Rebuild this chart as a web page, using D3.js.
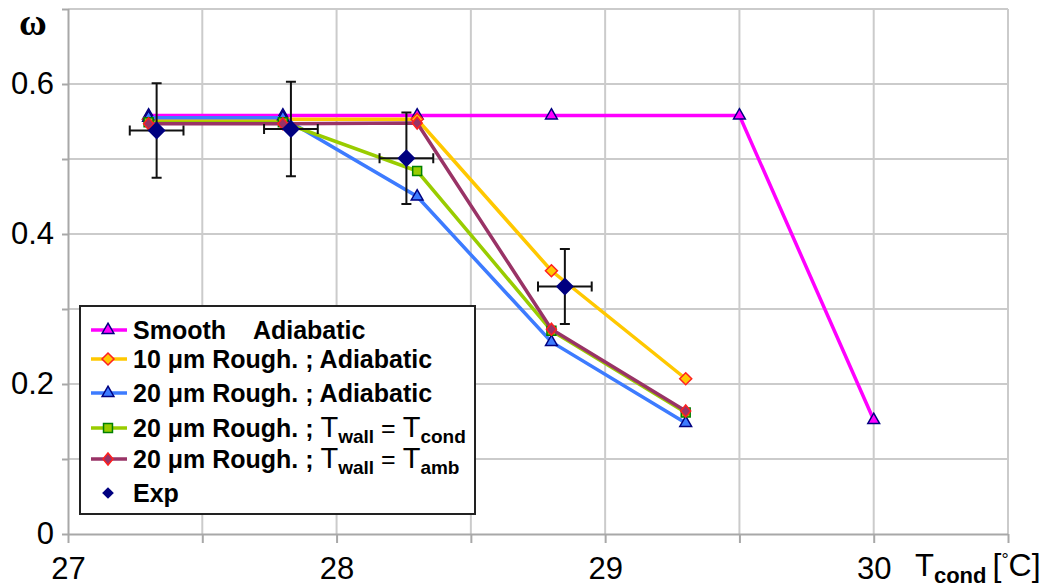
<!DOCTYPE html>
<html>
<head>
<meta charset="utf-8">
<script src="https://cdn.jsdelivr.net/npm/d3@7"></script>
<style>
  body { margin: 0; background: #fff; }
  svg { display: block; font-family: "Liberation Sans", Arial, sans-serif; }
</style>
</head>
<body>
<svg id="chart"></svg>
<script>
const width = 1059;
const height = 587;

// data
const simX = [27.3, 27.8, 28.3, 28.8, 29.3];
const smoothX = [27.3, 27.8, 28.3, 28.8, 29.5, 30.0];
const smoothAdiabatic = [0.558, 0.558, 0.558, 0.558, 0.558, 0.152];
const rough10Adiabatic = [0.553, 0.553, 0.553, 0.351, 0.207];
const rough20Adiabatic = [0.555, 0.555, 0.450, 0.256, 0.148];
const rough20Cond = [0.549, 0.549, 0.484, 0.271, 0.162];
const rough20Amb = [0.547, 0.547, 0.548, 0.273, 0.164];
const expX = [27.33, 27.83, 28.26, 28.85];
const expY = [0.538, 0.540, 0.501, 0.330];
const expXErr = [0.1, 0.1, 0.1, 0.1];
const expYErr = [0.063, 0.063, 0.061, 0.05];

const xTicks = [27, 27.5, 28, 28.5, 29, 29.5, 30, 30.5];
const xLabels = [27, 28, 29, 30];
const yTicks = [0, 0.1, 0.2, 0.3, 0.4, 0.5, 0.6, 0.7];
const yLabels = [0, 0.2, 0.4, 0.6];

const series = [
    { name: [["Smooth    Adiabatic"]], xs: smoothX, ys: smoothAdiabatic,
      color: "#ff00ff", marker: "triangle", fill: "#ff00ff", stroke: "#000080" },
    { name: [["10 μm Rough. ; Adiabatic"]], xs: simX, ys: rough10Adiabatic,
      color: "#ffc800", marker: "diamond", fill: "#ffc800", stroke: "#ff2020" },
    { name: [["20 μm Rough. ; Adiabatic"]], xs: simX, ys: rough20Adiabatic,
      color: "#3d7bff", marker: "triangle", fill: "#3d7bff", stroke: "#000080" },
    { name: [["20 μm Rough. ; "], ["T", "big"], ["wall", "sub"], [" = ", "eq"], ["T", "big"], ["cond", "sub"]],
      xs: simX, ys: rough20Cond,
      color: "#99cc00", marker: "square", fill: "#99cc00", stroke: "#008000" },
    { name: [["20 μm Rough. ; "], ["T", "big"], ["wall", "sub"], [" = ", "eq"], ["T", "big"], ["amb", "sub"]],
      xs: simX, ys: rough20Amb,
      color: "#993366", marker: "small", fill: "#993366", stroke: "#ff2020" }
];

const svg = d3.select("#chart")
    .attr("width", width)
    .attr("height", height);

const x = d3.scaleLinear().domain([27, 30.5]).range([68, 1008]);
const y = d3.scaleLinear().domain([0, 0.7]).range([534, 9]);

// grid
const grid = svg.append("g");
grid.selectAll(".vg")
    .data(xTicks.slice(1))
    .enter()
    .append("line")
    .attr("x1", d => x(d)).attr("x2", d => x(d))
    .attr("y1", y(0)).attr("y2", y(0.7))
    .attr("stroke", "#cbcbcb").attr("stroke-width", 2);
grid.selectAll(".hg")
    .data(yTicks.slice(1))
    .enter()
    .append("line")
    .attr("x1", x(27)).attr("x2", x(30.5))
    .attr("y1", d => y(d)).attr("y2", d => y(d))
    .attr("stroke", "#cbcbcb").attr("stroke-width", 2);

// axes
const xAxis = d3.axisBottom(x)
    .tickValues(xTicks)
    .tickSize(9)
    .tickPadding(14)
    .tickFormat(d => xLabels.includes(d) ? d : "");
const yAxis = d3.axisLeft(y)
    .tickValues(yTicks)
    .tickSize(6)
    .tickPadding(8)
    .tickFormat(d => yLabels.includes(d) ? (d === 0 ? "0" : d3.format(".1f")(d)) : "");

const gx = svg.append("g")
    .attr("transform", `translate(0, ${y(0)})`)
    .call(xAxis);
const gy = svg.append("g")
    .attr("transform", `translate(${x(27)}, 0)`)
    .call(yAxis);

[gx, gy].forEach(g => {
    g.select(".domain").attr("stroke", "#a8a8a8").attr("stroke-width", 2);
    g.selectAll(".tick line").attr("stroke", "#a8a8a8").attr("stroke-width", 2);
    g.selectAll(".tick text")
        .attr("fill", "#000")
        .style("font-size", "31px")
        .style("font-family", "'Liberation Sans', Arial, sans-serif");
});
gx.select(".domain").attr("d", `M${x(27)},0.5H${x(30.5)}`);
gy.select(".domain").attr("d", `M0.5,${y(0)}V${y(0.7)}`);
gy.selectAll(".tick text").attr("x", -14);

// axis titles
svg.append("text")
    .attr("x", 33).attr("y", 35)
    .attr("text-anchor", "middle")
    .style("font-family", "'Liberation Serif', 'Times New Roman', serif")
    .style("font-weight", "bold")
    .style("font-size", "38px")
    .text("ω");

const xt = svg.append("text")
    .attr("x", 915).attr("y", 576)
    .style("font-size", "31px");
xt.append("tspan").text("T");
xt.append("tspan").attr("dy", 7).style("font-size", "22px").style("font-weight", "bold").text("cond");
xt.append("tspan").attr("dy", -7).attr("dx", 6).style("font-size", "32px").text("[");
xt.append("tspan").attr("dy", -10).style("font-size", "18px").text("°");
xt.append("tspan").attr("dy", 10).style("font-size", "32px").text("C]");

// markers
function markerPath(kind) {
    if (kind === "triangle") return d3.symbol(d3.symbolTriangle, 60)();
    if (kind === "square") return d3.symbol(d3.symbolSquare, 80)();
    if (kind === "diamond") return "M0,-6L6,0L0,6L-6,0Z";
    if (kind === "small") return "M0,-6L5,0L0,6L-5,0Z";
    if (kind === "exp") return "M0,-9L9,0L0,9L-9,0Z";
    return "";
}

const line = d3.line().x(d => x(d[0])).y(d => y(d[1]));

const plot = svg.append("g");
series.forEach(s => {
    const pts = s.xs.map((v, i) => [v, s.ys[i]]);
    plot.append("path")
        .datum(pts)
        .attr("d", line)
        .attr("fill", "none")
        .attr("stroke", s.color)
        .attr("stroke-width", 3.5);
    plot.selectAll(null)
        .data(pts)
        .enter()
        .append("path")
        .attr("transform", d => `translate(${x(d[0])}, ${y(d[1])})`)
        .attr("d", markerPath(s.marker))
        .attr("fill", s.fill)
        .attr("stroke", s.stroke)
        .attr("stroke-width", 1.5);
});

// experiment with error bars
const exp = expX.map((v, i) => ({ x: v, y: expY[i], ex: expXErr[i], ey: expYErr[i] }));
const eb = svg.append("g").attr("stroke", "#111").attr("stroke-width", 2);
exp.forEach(d => {
    const cx = x(d.x), cy = y(d.y);
    const x0 = x(d.x - d.ex), x1 = x(d.x + d.ex);
    const y0 = y(d.y - d.ey), y1 = y(d.y + d.ey);
    eb.append("path").attr("fill", "none")
        .attr("d", `M${cx},${y0}V${y1}M${cx - 5},${y0}H${cx + 5}M${cx - 5},${y1}H${cx + 5}` +
                   `M${x0},${cy}H${x1}M${x0},${cy - 5}V${cy + 5}M${x1},${cy - 5}V${cy + 5}`);
});
svg.append("g").selectAll("path")
    .data(exp)
    .enter()
    .append("path")
    .attr("transform", d => `translate(${x(d.x)}, ${y(d.y)})`)
    .attr("d", markerPath("exp"))
    .attr("fill", "#000080");

// legend
const legend = svg.append("g");
legend.append("rect")
    .attr("x", 80).attr("y", 306)
    .attr("width", 395).attr("height", 208)
    .attr("fill", "#fff")
    .attr("stroke", "#222")
    .attr("stroke-width", 2);

const rowY = [330, 359, 393, 428, 459, 493];
const entries = series.concat([{ name: [["Exp"]], marker: "exp", fill: "#000080", stroke: "none" }]);
entries.forEach((s, i) => {
    const ry = rowY[i];
    if (s.color) {
        legend.append("line")
            .attr("x1", 91).attr("x2", 127)
            .attr("y1", ry).attr("y2", ry)
            .attr("stroke", s.color).attr("stroke-width", 3.5);
    }
    legend.append("path")
        .attr("transform", `translate(108, ${ry}) scale(${s.marker === "exp" ? 0.65 : 1})`)
        .attr("d", markerPath(s.marker))
        .attr("fill", s.fill)
        .attr("stroke", s.stroke)
        .attr("stroke-width", 1.5);
    const t = legend.append("text")
        .attr("x", 133).attr("y", ry + 9)
        .style("font-size", "25px")
        .style("font-weight", "bold")
        .style("white-space", "pre");
    let shifted = 0;
    s.name.forEach(([txt, kind]) => {
        const sp = t.append("tspan").text(txt);
        if (kind === "big") {
            sp.style("font-size", "29px").style("font-weight", "normal");
            if (shifted) { sp.attr("dy", -shifted); shifted = 0; }
        } else if (kind === "sub") {
            sp.style("font-size", "19px").attr("dy", 6);
            shifted = 6;
        } else if (kind === "eq") {
            sp.style("font-weight", "normal");
            if (shifted) { sp.attr("dy", -shifted); shifted = 0; }
        }
    });
});
</script>
</body>
</html>
